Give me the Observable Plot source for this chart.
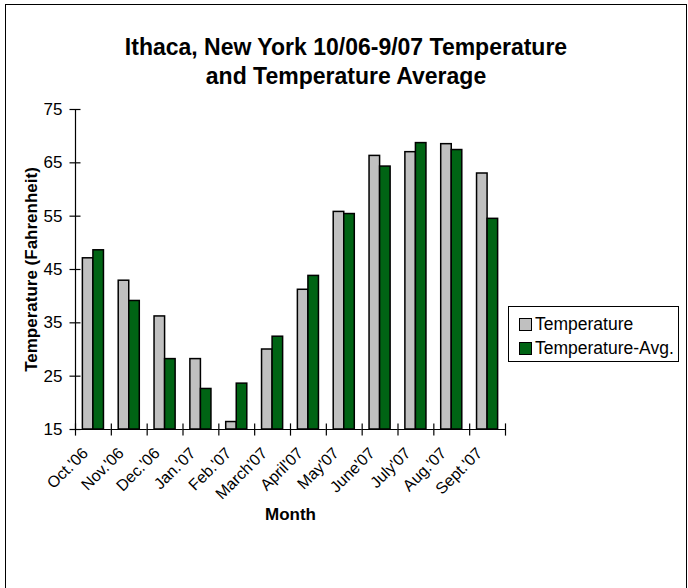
<!DOCTYPE html>
<html>
<head>
<meta charset="utf-8">
<script src="https://cdn.jsdelivr.net/npm/d3@7"></script>
<script src="https://cdn.jsdelivr.net/npm/@observablehq/plot@0.6"></script>
<style>
  body { margin: 0; background: #fff; font-family: "Liberation Sans", Arial, sans-serif; }
  #wrap { position: relative; width: 688px; height: 588px; overflow: hidden; background: #fff; }
  #chart { position: absolute; left: 0; top: 0; }
  #border { position: absolute; left: 5px; top: 4px; width: 682px; height: 640px; border: 1.5px solid #000; box-sizing: border-box; pointer-events: none; }
  #title { position: absolute; left: 5px; width: 682px; top: 33px; text-align: center; font-weight: bold; font-size: 23px; line-height: 29px; color: #000; }
  #legend { position: absolute; left: 508px; top: 306px; width: 171px; height: 56px; border: 1px solid #000; box-sizing: border-box; background: #fff; }
  .item { position: absolute; left: 10px; height: 20px; font-size: 17.5px; line-height: 20px; white-space: nowrap; color: #000; }
  .sw { display: inline-block; width: 11px; height: 11px; border: 1.5px solid #000; vertical-align: -1px; margin-right: 3px; }
</style>
</head>
<body>
<div id="wrap">
  <div id="chart"></div>
  <div id="title">Ithaca, New York 10/06-9/07 Temperature<br>and Temperature Average</div>
  <div id="legend"></div>
  <div id="border"></div>
</div>
<script>
const months = ["Oct.'06", "Nov.'06", "Dec.'06", "Jan.'07", "Feb.'07", "March'07", "April'07", "May'07", "June'07", "July'07", "Aug.'07", "Sept.'07"];
const series = ["Temperature", "Temperature-Avg."];
const temperature = [47.1, 42.9, 36.2, 28.2, 16.4, 30.0, 41.2, 55.8, 66.3, 67.0, 68.5, 63.0];
const temperatureAvg = [48.6, 39.1, 28.2, 22.6, 23.6, 32.4, 43.8, 55.4, 64.3, 68.7, 67.4, 54.5];
const yTicks = [15, 25, 35, 45, 55, 65, 75];
const colors = ["#c0c0c0", "#006414"];

const rows = months.flatMap((m, i) => [
  {month: m, series: series[0], value: temperature[i]},
  {month: m, series: series[1], value: temperatureAvg[i]}
]);

const chart = Plot.plot({
  width: 688,
  height: 588,
  marginLeft: 75,
  marginRight: 183,
  marginTop: 109,
  marginBottom: 159,
  style: {background: "transparent", fontFamily: "'Liberation Sans', Arial, sans-serif", color: "#000"},
  fx: {domain: months, paddingInner: 0, paddingOuter: 0, round: false},
  x: {domain: series, paddingInner: 0, paddingOuter: 0.7, round: false, axis: null},
  y: {domain: [yTicks[0], yTicks[yTicks.length - 1]], round: false},
  color: {domain: series, range: colors},
  marks: [
    Plot.barY(rows, {fx: "month", x: "series", y1: yTicks[0], y2: "value", fill: "series", stroke: "#000", strokeWidth: 1.5}),
    Plot.ruleY([yTicks[0]], {stroke: "#000", strokeWidth: 1.2}),
    Plot.frame({anchor: "left", facetAnchor: "left", stroke: "#000", strokeWidth: 1.2}),
    Plot.frame({anchor: "left", insetTop: 314.5, insetBottom: -5.5, stroke: "#000", strokeWidth: 1.2}),
    Plot.frame({anchor: "right", facetAnchor: "right", insetTop: 314.5, insetBottom: -5.5, stroke: "#000", strokeWidth: 1.2}),
    Plot.axisY({ticks: yTicks, tickSize: 11, dx: 5.5, fill: "none", label: null, stroke: "#000", strokeWidth: 1.2}),
    Plot.axisY({ticks: yTicks, tickSize: 0, tickPadding: 13, fontSize: 17, label: null, fill: "#000"}),
    Plot.axisY({ticks: [], tickSize: 0, label: "Temperature (Fahrenheit)", labelAnchor: "center", labelArrow: false, labelOffset: 51, dy: -6, fontSize: 17, fontWeight: "bold", fill: "#000"}),
    Plot.axisFx({anchor: "bottom", tickRotate: -45, tickSize: 0, tickPadding: 21, dx: -8, fontSize: 16, label: null, fill: "#000"}),
    Plot.axisFx({anchor: "bottom", ticks: [], tickSize: 0, label: "Month", labelAnchor: "center", labelArrow: false, labelOffset: 90, fontSize: 17, fontWeight: "bold", fill: "#000"})
  ]
});
document.getElementById("chart").appendChild(chart);

const legend = document.getElementById("legend");
series.forEach((s, i) => {
  const item = document.createElement("div");
  item.className = "item";
  item.style.top = (7 + i * 24) + "px";
  const sw = document.createElement("span");
  sw.className = "sw";
  sw.style.background = colors[i];
  item.appendChild(sw);
  item.appendChild(document.createTextNode(s));
  legend.appendChild(item);
});
</script>
</body>
</html>
